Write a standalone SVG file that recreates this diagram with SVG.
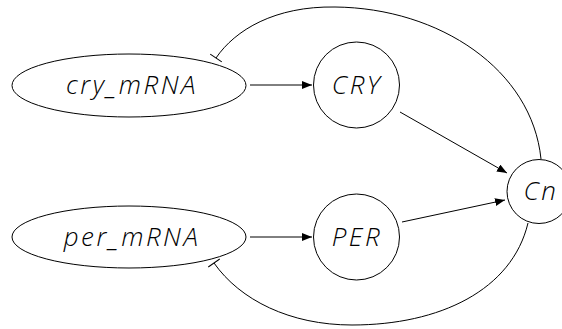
<svg xmlns="http://www.w3.org/2000/svg" width="562" height="329" viewBox="0 0 562 329">
<defs>
<marker id="arr" markerUnits="userSpaceOnUse" markerWidth="12" markerHeight="10" refX="10" refY="4" orient="auto">
<path d="M0,0 L10,4 L0,8 Z" fill="#000"/>
</marker>
<marker id="tee" markerUnits="userSpaceOnUse" markerWidth="4" markerHeight="16" refX="1" refY="8" orient="auto">
<path d="M1,1 L1,15" stroke="#000" stroke-width="1" fill="none"/>
</marker>
</defs>
<style>
.n{fill:#fff;stroke:#000;stroke-width:1}
.t{font-family:"Open Sans","DejaVu Sans",sans-serif;font-style:italic;font-weight:300;font-size:26px;letter-spacing:2.5px;text-anchor:middle;fill:#000}
.e{fill:none;stroke:#000;stroke-width:1}
</style>
<rect width="562" height="329" fill="#fff"/>
<g id="edges">
<line class="e" x1="250" y1="85" x2="312" y2="85" marker-end="url(#arr)"/>
<line class="e" x1="250" y1="237" x2="312" y2="237" marker-end="url(#arr)"/>
<line class="e" x1="400" y1="112" x2="507" y2="173" marker-end="url(#arr)"/>
<line class="e" x1="402" y1="222" x2="505" y2="200" marker-end="url(#arr)"/>
<path class="e" d="M541,159 C532,70 440,8 335,7 C275,6 235,30 216,58" marker-end="url(#tee)"/>
<path class="e" d="M528,223 C512,290 440,325 352,325 C290,325 240,300 214,263" marker-end="url(#tee)"/>
</g>
<g id="cry_mRNA"><ellipse class="n" cx="129" cy="85.5" rx="117" ry="31.5"/><text class="t" x="132" y="94">cry_mRNA</text></g>
<g id="per_mRNA"><ellipse class="n" cx="129" cy="237" rx="117" ry="31"/><text class="t" x="132" y="246">per_mRNA</text></g>
<g id="CRY"><circle class="n" cx="356.5" cy="85" r="43"/><text class="t" x="357" y="94">CRY</text></g>
<g id="PER"><circle class="n" cx="356.5" cy="237" r="43"/><text class="t" x="357" y="246">PER</text></g>
<g id="Cn"><circle class="n" cx="539" cy="191.5" r="32"/><text class="t" x="541" y="200">Cn</text></g>
</svg>
